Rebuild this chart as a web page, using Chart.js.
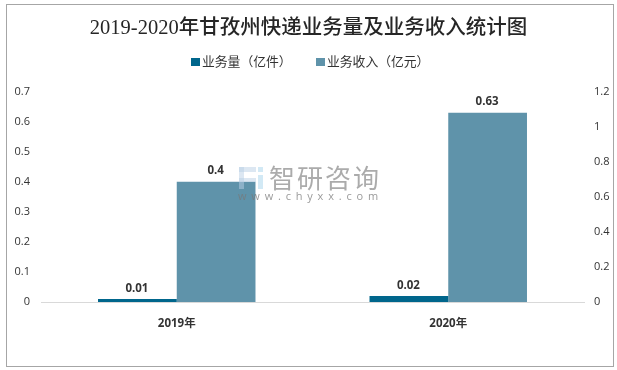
<!DOCTYPE html>
<html>
<head>
<meta charset="utf-8">
<style>
  html, body { margin: 0; padding: 0; background: #fff; }
  canvas { display: block; }
</style>
<script src="https://cdn.jsdelivr.net/npm/chart.js@4"></script>
</head>
<body>
<canvas id="expressChart" width="617" height="370"></canvas>
<script>
const categories = ['2019年', '2020年'];
const volumeValues = [0.01, 0.02];
const revenueValues = [0.4, 0.63];
const volumeLabel = '业务量（亿件）';
const revenueLabel = '业务收入（亿元）';
const leftMax = 0.7;
const leftStep = 0.1;
const rightMax = 1.2;
const rightStep = 0.2;

const fontFamily = '"Open Sans", "Noto Sans CJK SC", sans-serif';
const tickText = v => String(+v.toFixed(1));

// outer frame and watermark
const framePlugin = {
  id: 'frame',
  beforeDraw(chart) {
    const c = chart.ctx;
    c.save();
    c.strokeStyle = '#a6a6a6';
    c.lineWidth = 1;
    c.strokeRect(6.5, 4.5, 607, 362);
    c.restore();
  }
};

// built-in legend can't get the text this close to the box
const legendPlugin = {
  id: 'tightLegend',
  afterDraw(chart) {
    const c = chart.ctx;
    const starts = [191, 316];
    c.save();
    c.font = '12.8px ' + fontFamily;
    c.textBaseline = 'middle';
    chart.data.datasets.forEach((ds, i) => {
      c.fillStyle = ds.backgroundColor;
      c.fillRect(starts[i], 58, 9, 8);
      c.fillStyle = '#333333';
      c.fillText(ds.label, starts[i] + 11, 62);
    });
    c.restore();
  }
};

const watermarkPlugin = {
  id: 'watermark',
  afterDatasetsDraw(chart) {
    const c = chart.ctx;
    c.save();
    c.globalAlpha = 0.5;
    c.fillStyle = '#b9cfe6';
    c.fillRect(239, 167, 17, 5);
    c.fillRect(239, 167, 5, 22);
    c.fillRect(239, 178, 17, 4);
    c.fillStyle = '#a5d3ec';
    c.fillRect(258, 167, 5, 5);
    c.fillRect(258, 175, 5, 14);
    c.globalAlpha = 1;
    c.fillStyle = 'rgba(150,150,150,0.8)';
    c.font = '26px "Noto Sans CJK SC"';
    c.letterSpacing = '2px';
    c.textBaseline = 'middle';
    c.fillText('智研咨询', 269, 178);
    c.fillStyle = 'rgba(120,120,120,0.75)';
    c.font = '11px "Open Sans"';
    c.letterSpacing = '4.8px';
    c.fillText('www.chyxx.com', 238, 197);
    c.restore();
  }
};

// values above the bars
const barLabelPlugin = {
  id: 'barLabels',
  afterDatasetsDraw(chart) {
    const c = chart.ctx;
    c.save();
    c.font = 'bold 11.5px ' + fontFamily;
    c.fillStyle = '#333333';
    c.textAlign = 'center';
    c.textBaseline = 'bottom';
    chart.data.datasets.forEach((ds, i) => {
      chart.getDatasetMeta(i).data.forEach((bar, j) => {
        c.fillText(String(ds.data[j]), bar.x - 0.5, bar.y - 5);
      });
    });
    c.restore();
  }
};

new Chart(document.getElementById('expressChart').getContext('2d'), {
  type: 'bar',
  data: {
    labels: categories,
    datasets: [
      { label: volumeLabel, data: volumeValues, backgroundColor: '#00668c', yAxisID: 'y' },
      { label: revenueLabel, data: revenueValues, backgroundColor: '#5f93aa', yAxisID: 'y' }
    ]
  },
  options: {
    responsive: false,
    animation: false,
    categoryPercentage: 0.58,
    barPercentage: 1,
    layout: { padding: { top: 8, left: 0, right: 0, bottom: 0 } },
    plugins: {
      tooltip: { enabled: false },
      legend: { display: false },
      title: {
        display: true,
        text: '2019-2020年甘孜州快递业务量及业务收入统计图',
        color: '#262626',
        font: { family: '"Liberation Serif", "Noto Sans CJK SC", serif', size: 20.5, weight: '500' },
        padding: { top: 8, bottom: 51 }
      }
    },
    scales: {
      x: {
        grid: { display: false },
        border: { color: '#d9d9d9' },
        ticks: {
          color: '#333333',
          padding: 7,
          font: { family: fontFamily, size: 11.5, weight: 'bold' }
        },
        afterFit(axis) { axis.height = 68; }
      },
      y: {
        min: 0,
        max: leftMax,
        grid: { display: false },
        border: { display: false },
        ticks: {
          stepSize: leftStep,
          callback: tickText,
          color: '#333333',
          padding: 3,
          font: { family: fontFamily, size: 11 }
        },
        afterFit(axis) { axis.width = 41; }
      },
      y1: {
        position: 'right',
        display: true,
        min: 0,
        max: rightMax,
        grid: { display: false },
        border: { display: false },
        ticks: {
          stepSize: rightStep,
          callback: tickText,
          color: '#333333',
          padding: 2,
          font: { family: fontFamily, size: 11 }
        },
        afterFit(axis) { axis.width = 33; }
      }
    }
  },
  plugins: [framePlugin, barLabelPlugin, watermarkPlugin, legendPlugin]
});
</script>
</body>
</html>
